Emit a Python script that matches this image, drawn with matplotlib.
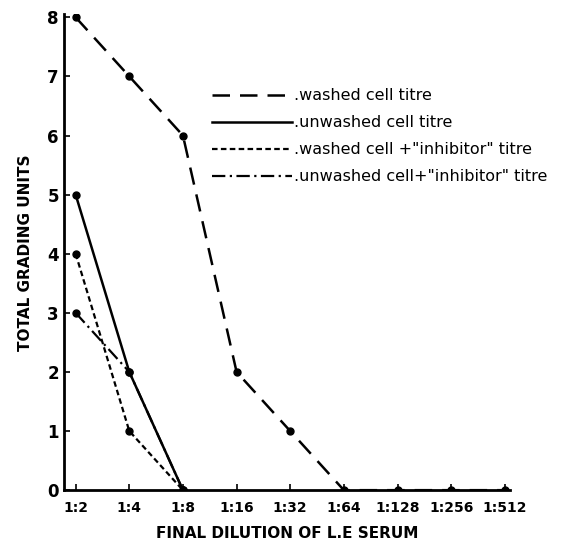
import matplotlib.pyplot as plt
import numpy as np

dilutions = ['1:2', '1:4', '1:8', '1:16', '1:32', '1:64', '1:128', '1:256', '1:512']
washed = [8, 7, 6, 2, 1, 0, 0, 0, 0]
unwashed = [5, 2, 0]
washed_inhib = [4, 1, 0]
unwashed_inhib = [3, 2, 0]

labels = ['.washed cell titre', '.unwashed cell titre',
          '.washed cell +"inhibitor" titre', '.unwashed cell+"inhibitor" titre']

plt.rcParams['font.family'] = ['DejaVu Sans']

fig = plt.figure(figsize=(5.65, 5.52), dpi=100)
ax = fig.add_axes([0.113, 0.112, 0.79, 0.862])

x = np.arange(len(dilutions))
ax.plot(x, washed, color='black', lw=1.8, ls=(0, (7, 4)), marker='o', ms=5, label=labels[0])
ax.plot(x[:3], unwashed, color='black', lw=1.8, ls='-', marker='o', ms=5, label=labels[1])
ax.plot(x[:3], washed_inhib, color='black', lw=1.6, ls=(0, (2.5, 1.5)), marker='o', ms=5, label=labels[2])
ax.plot(x[:3], unwashed_inhib, color='black', lw=1.6, ls=(0, (6, 2, 1, 2)), marker='o', ms=5, label=labels[3])

ax.set_xlim(-0.22, 8.1)
ax.set_ylim(0, 8.05)
ax.set_xticks(x)
ax.set_xticklabels(dilutions, fontsize=10, fontweight='bold')
ax.set_yticks(range(9))
ax.set_yticklabels([str(i) for i in range(9)], fontsize=12, fontweight='bold')
ax.tick_params(direction='in', length=4, width=1.2)
ax.tick_params(axis='x', pad=8)
ax.spines['top'].set_visible(False)
ax.spines['right'].set_visible(False)
ax.spines['left'].set_linewidth(2)
ax.spines['bottom'].set_linewidth(2)

ax.set_xlabel('FINAL DILUTION OF L.E SERUM', fontsize=11, fontweight='bold', labelpad=8)
ax.set_ylabel('TOTAL GRADING UNITS', fontsize=11, fontweight='bold', labelpad=10)

ax.legend(loc='upper left', bbox_to_anchor=(0.3, 0.875), frameon=False,
          handlelength=5, handletextpad=0.1, labelspacing=0.75, fontsize=11.5,
          markerscale=0)

plt.savefig('out.png', dpi=100)
